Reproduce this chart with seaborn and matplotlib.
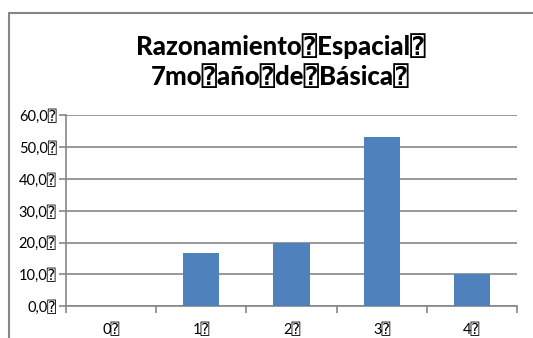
import matplotlib
matplotlib.use("Agg")
import matplotlib.pyplot as plt
from matplotlib.ticker import FixedLocator
from matplotlib.lines import Line2D
import seaborn as sns
import pandas as pd

Q = "\u2370"
categories = ["0", "1", "2", "3", "4"]
values = [0.0, 16.67, 20.0, 53.33, 10.0]
y_ticks = [0, 10, 20, 30, 40, 50, 60]
y_tick_labels = ["0,0", "10,0", "20,0", "30,0", "40,0", "50,0", "60,0"]
title_lines = ["Razonamiento" + Q + "Espacial" + Q, "7mo" + Q + "año" + Q + "de" + Q + "Básica" + Q]

sns.set_theme(style="white")
plt.rcParams["font.family"] = ["Lato", "DejaVu Sans", "DejaVu Sans Mono"]

W, H = 533, 338
fig = plt.figure(figsize=(W / 100, H / 100), dpi=100)
fig.patch.set_facecolor("white")

ax_left, ax_right, ax_bottom, ax_top = 66, 517, 306, 115.5
ax = fig.add_axes([ax_left / W, (H - ax_bottom) / H, (ax_right - ax_left) / W, (ax_bottom - ax_top) / H])

df = pd.DataFrame({"cat": categories, "val": values})
sns.barplot(data=df, x="cat", y="val", color="#4F81BD", width=0.4, saturation=1,
            linewidth=0, edgecolor="none", ax=ax, zorder=3)

grid_c = "#868686"
ax.set_xlim(-0.5, len(categories) - 0.5)
ax.set_ylim(0, 60)
ax.set_yticks(y_ticks)
ax.set_yticklabels([l + Q for l in y_tick_labels])
ax.yaxis.grid(True, color=grid_c, linewidth=1.2, zorder=0)
ax.xaxis.grid(False)
ax.set_axisbelow(True)

ax.xaxis.set_major_locator(FixedLocator([i - 0.5 for i in range(len(categories) + 1)]))
ax.xaxis.set_minor_locator(FixedLocator(list(range(len(categories)))))
ax.set_xticklabels([""] * (len(categories) + 1))
ax.set_xticklabels([c + Q for c in categories], minor=True)
ax.tick_params(axis="x", which="major", direction="out", length=5, width=1.2, color=grid_c, bottom=True)
ax.tick_params(axis="x", which="minor", length=0, pad=12, labelsize=10.5, labelcolor="#000000")
ax.tick_params(axis="y", direction="out", length=5, width=1.2, color=grid_c, left=True, pad=2, labelsize=10.5, labelcolor="#000000")
ax.set_xlabel("")
ax.set_ylabel("")

for s in ["top", "right"]:
    ax.spines[s].set_visible(False)
for s in ["left", "bottom"]:
    ax.spines[s].set_color(grid_c)
    ax.spines[s].set_linewidth(1.2)

cx = 0.5 * (133 + 428) / W
fig.text(cx, 1 - 46 / H, title_lines[0], ha="center", va="center", fontsize=18.5, fontweight="black", color="#000000")
fig.text(cx, 1 - 77 / H, title_lines[1], ha="center", va="center", fontsize=18.5, fontweight="black", color="#000000")

# chart frame (left and top edges visible)
fig.add_artist(Line2D([8.5 / W, 8.5 / W], [0, 1 - 12.5 / H], color=grid_c, linewidth=1.5, transform=fig.transFigure))
fig.add_artist(Line2D([8.5 / W, 1], [1 - 12.5 / H, 1 - 12.5 / H], color=grid_c, linewidth=1.5, transform=fig.transFigure))

fig.savefig("out.png", dpi=100)
